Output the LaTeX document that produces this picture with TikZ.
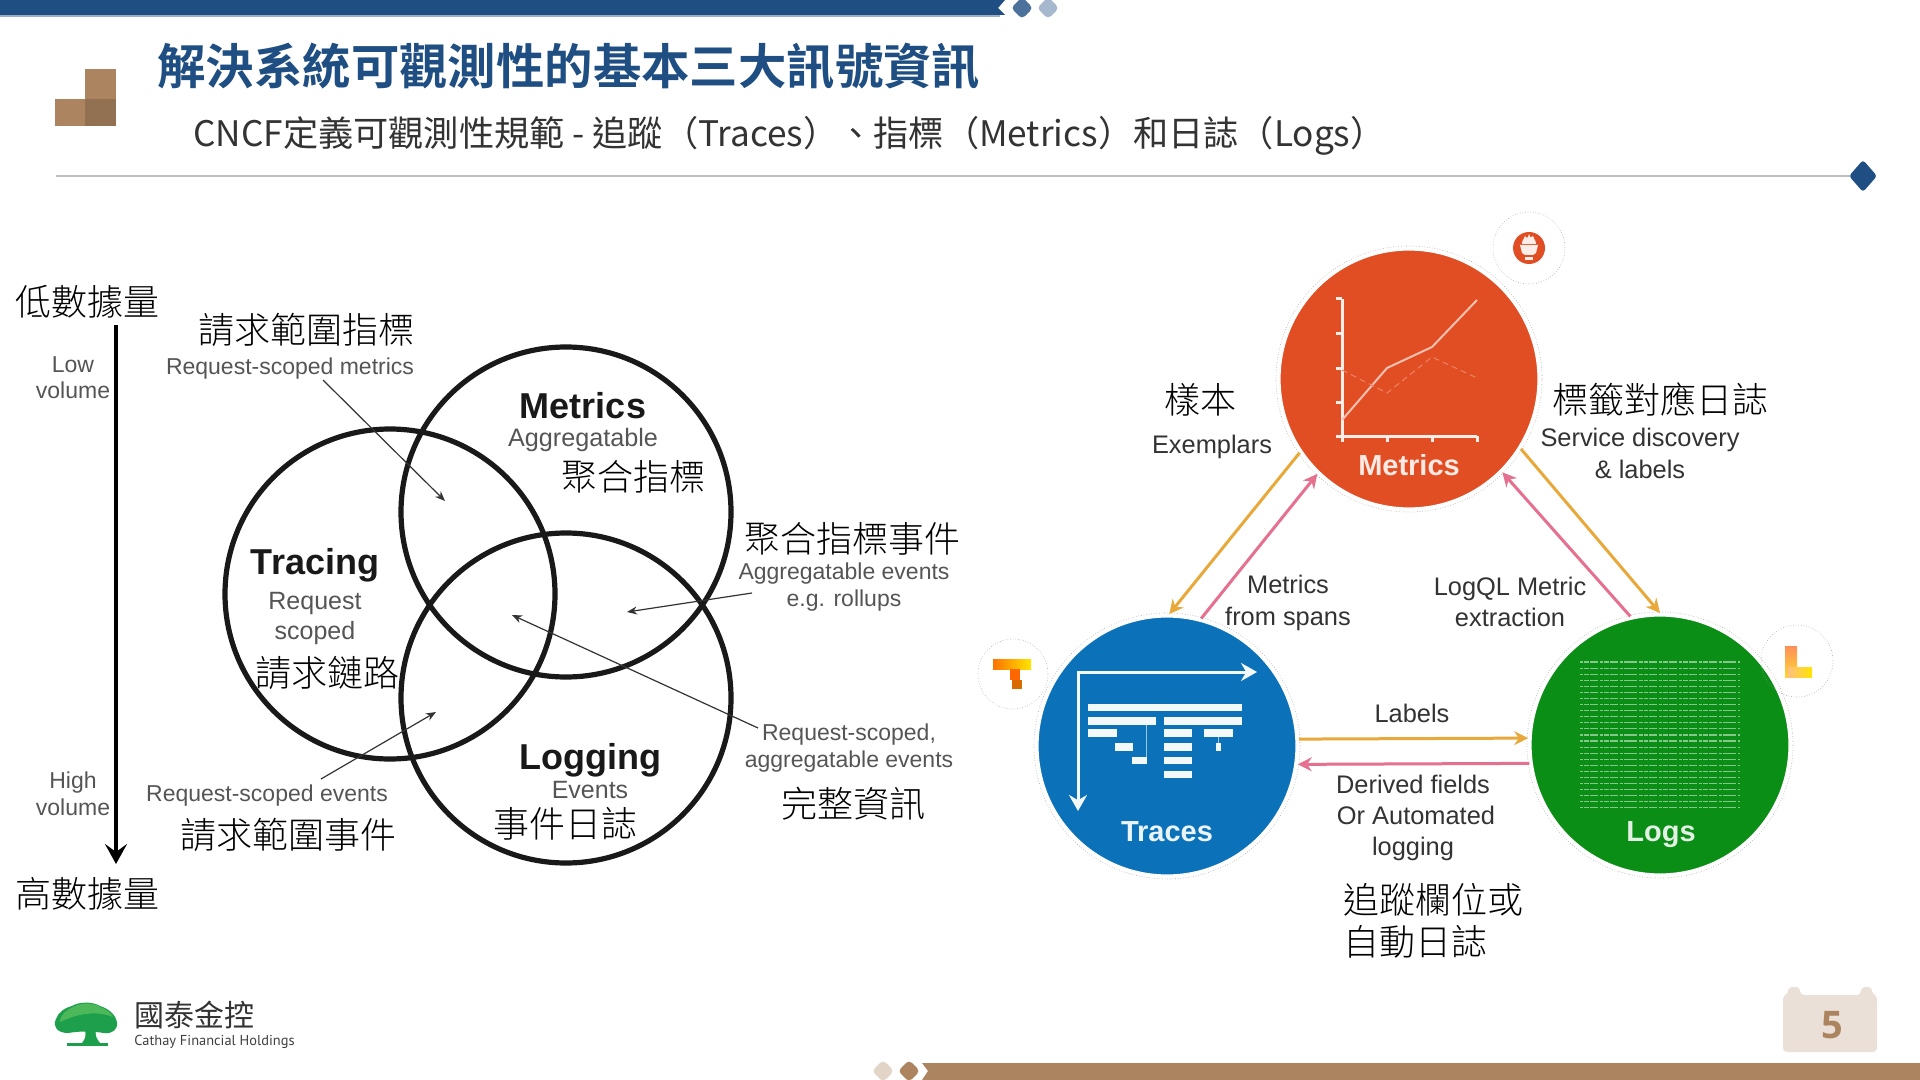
\documentclass[tikz,border=0pt]{standalone}
\usepackage{fontspec}
\setmainfont{Liberation Sans}
\newfontfamily\cjk{Noto Sans CJK TC Light}
\newfontfamily\cjkb{Noto Sans CJK TC Bold}
\newfontfamily\cjkr{Noto Sans CJK TC}
\newfontfamily\logofont{PT Sans}
\newfontfamily\numfont{Open Sans}
\usetikzlibrary{arrows.meta}
\definecolor{navy}{HTML}{1F4E82}
\definecolor{tan}{HTML}{AC8560}
\definecolor{oarrow}{HTML}{E8A93A}
\definecolor{parrow}{HTML}{E5708F}
\definecolor{gtxt}{HTML}{555555}
\definecolor{mred}{HTML}{E24E23}
\definecolor{tblue}{HTML}{0B72B9}
\definecolor{lgreen}{HTML}{0B8E16}
\definecolor{treeg}{HTML}{1E9F4B}
\definecolor{treel}{HTML}{4DB85A}
\newcommand{\fs}[1]{\fontsize{#1}{#1}\selectfont}
\tikzset{
  zh/.style={font=\cjk\fs{18},inner sep=0,text=black,yshift=-0.4pt},
  fixedh/.style={text height=0.72em,text depth=0.2em},
  en/.style={font=\fs{11.5},inner sep=0,text=gtxt,fixedh,yshift=-1.5pt},
  enb/.style={font=\bfseries\fs{18},inner sep=0,text=black!90,fixedh,yshift=-3.8pt},
  rlabel/.style={font=\fs{12.7},inner sep=0,text=black!80,fixedh,yshift=-2pt},
  venn/.style={circle,draw=black!90,line width=2.6pt,minimum size=165pt,inner sep=0},
  bigc/.style={circle,inner sep=0,outer sep=1.5pt,minimum size=129pt,draw=white,line width=.6pt},
  halo/.style={draw=black!35,densely dotted,line width=.3pt},
  thinarrow/.style={draw=black!80,line width=.6pt,-{Stealth[length=5pt,width=4pt]}},
  oline/.style={draw=oarrow,line width=1.5pt,-{Stealth[length=7pt,width=7pt]}},
  pline/.style={draw=parrow,line width=1.5pt,-{Stealth[length=7pt,width=7pt]}},
  cname/.style={font=\bfseries\fs{14.5},inner sep=0,fixedh,yshift=-2.2pt},
}
\begin{document}
\begin{tikzpicture}[x=0.5pt,y=-0.5pt]
\useasboundingbox (0,0) rectangle (1920,1080);
\fill[white] (0,0) rectangle (1920,1080);
% top band
\fill[navy!45] (0,15) rectangle (1000,17);
\fill[navy] (0,0) -- (1005,0) -- (998,8) -- (1005,15) -- (0,15) -- cycle;
\fill[navy!80,rounded corners=2pt] (1022,-3) -- (1033,8) -- (1022,19) -- (1011,8) -- cycle;
\fill[navy!40,rounded corners=2pt] (1048,-3) -- (1059,8) -- (1048,19) -- (1037,8) -- cycle;
% heading
\fill[tan] (85,69) rectangle (116,99);
\fill[tan] (55,99) rectangle (85,126);
\fill[tan!85!black] (85,99) rectangle (116,126);
\node[anchor=west,inner sep=0,text=navy,font=\cjkb\fs{24.2}] (title) at (157,66) {解決系統可觀測性的基本三大訊號資訊};
\node[anchor=west,inner sep=0,text=black!80,font=\cjkr\fs{17.6}] (sub) at (193,136) {CNCF定義可觀測性規範 - 追蹤（Traces）、指標（Metrics）和日誌（Logs）};
\draw[black!25,line width=1.2pt] (56,176) -- (1850,176);
\fill[navy,rounded corners=1.5pt] (1863,160) -- (1877,176) -- (1863,192) -- (1849,176) -- cycle;
% left axis
\node[zh] (low) at (87,301) {低數據量};
\node[zh] (high) at (87,893) {高數據量};
\coordinate (axs) at (116,325);
\coordinate (axe) at (116,864);
\draw[black,line width=2.2pt,-{Stealth[length=10pt,width=11pt,inset=4pt]}] (axs) -- (axe);
\node[en] (lowa) at (73,364) {Low};
\node[en] (lowb) at (73,390) {volume};
\node[en] (higha) at (73,780) {High};
\node[en] (highb) at (73,807) {volume};
% venn
\node[venn] (vm) at (566,512) {};
\node[venn] (vt) at (390,594) {};
\node[venn] (vl) at (566,698) {};
\node[zh] (z1) at (306,329) {請求範圍指標};
\node[en] (e1) at (290,366) {Request-scoped metrics};
\node[enb] (mt) at (583,406) {Metrics};
\node[en,font=\fs{12.6}] (ma) at (583,438) {Aggregatable};
\node[zh] (z2) at (633,476) {聚合指標};
\node[enb] (tt) at (315,562) {Tracing};
\node[en,font=\fs{12.5}] (tr) at (315,601) {Request};
\node[en,font=\fs{12.5}] (ts) at (315,631) {scoped};
\node[zh] (z3) at (327,672) {請求鏈路};
\node[zh] (z4) at (852,538) {聚合指標事件};
\node[en] (e4a) at (844,571) {Aggregatable events};
\node[en] (e4b) at (844,598) {e.g. rollups};
\node[en] (e5a) at (849,732) {Request-scoped,};
\node[en] (e5b) at (849,759) {aggregatable events};
\node[zh] (z5) at (853,803) {完整資訊};
\node[enb] (lt) at (590,757) {Logging};
\node[en,font=\fs{12.5}] (le) at (590,790) {Events};
\node[zh] (z6) at (565,823) {事件日誌};
\node[en] (e6) at (267,793) {Request-scoped events};
\node[zh] (z7) at (288,834) {請求範圍事件};
\coordinate (p1) at (445,501);
\coordinate (p2) at (627,612);
\coordinate (p3) at (512,615);
\coordinate (p4) at (436,712);
\coordinate (q1) at (323,380);
\coordinate (q2) at (752,593);
\coordinate (q3) at (758,728);
\coordinate (q4) at (321,779);
\draw[thinarrow] (q1) -- (p1);
\draw[thinarrow] (q2) -- (p2);
\draw[thinarrow] (q3) -- (p3);
\draw[thinarrow] (q4) -- (p4);
% big circles
\draw[halo] (1409,379) circle (133);
\draw[halo] (1167,746) circle (133);
\draw[halo] (1660,745) circle (133);
\node[bigc,fill=mred] (M) at (1409,379) {};
\node[bigc,fill=tblue] (T) at (1167,746) {};
\node[bigc,fill=lgreen] (L) at (1660,745) {};
% metrics chart
\draw[white!90!mred,line width=1.5pt] (1342,299) -- (1342,436) -- (1477,436);
\foreach \y in {299,334,368,402,436}{\draw[white!90!mred,line width=1.5pt] (1336,\y) -- (1342,\y);}
\foreach \x in {1342,1387,1432,1477}{\draw[white!90!mred,line width=1.5pt] (\x,436) -- (\x,442);}
\draw[mred!35!white,line width=1pt] (1342,420) -- (1387,368) -- (1432,347) -- (1477,300);
\draw[mred!70!white,line width=.5pt,densely dashed] (1342,370) -- (1387,393) -- (1432,357) -- (1477,378);
\node[cname,text=white!88!mred] (Mn) at (1409,466) {Metrics};
% traces chart
\draw[white!95!tblue,line width=1.5pt,{Stealth[length=8pt,width=9pt]}-{Stealth[length=8pt,width=9pt]}] (1078,811) -- (1078,672) -- (1257,672);
\foreach \a/\b/\c/\d in {1088/704/1242/711,1088/717/1156/725,1164/717/1242/725,1088/729/1117/737,1164/729/1192/737,1204/729/1233/737,1115/743/1133/751,1164/743/1192/751,1216/743/1221/751,1132/757/1147/764,1164/757/1192/764,1164/771/1192/778}{\fill[white!95!tblue] (\a,\b) rectangle (\c,\d);}
\draw[white!60!tblue,line width=.3pt] (1146,725) -- (1146,757) (1218,737) -- (1218,743);
\node[cname,text=white!92!tblue] (Tn) at (1167,832) {Traces};
% logs text block
\foreach \y in {0,...,24}{
  \draw[white!50!lgreen,line width=.55pt,dash pattern=on 1.6pt off .5pt on 2.4pt off .4pt on 4pt off 1pt] (1580,662+\y*6.08) -- (1740,662+\y*6.08);
}
\node[cname,text=white!88!lgreen] (Ln) at (1661,832) {Logs};
% small icons
\node[circle,halo,minimum size=36pt,inner sep=0] (ip) at (1529,248) {};
\node[circle,halo,minimum size=35pt,inner sep=0] (it) at (1013,674) {};
\node[circle,halo,minimum size=36pt,inner sep=0] (il) at (1797,661) {};
\fill[mred] (1529,248) circle (16);
\fill[white!90!mred] (1520,245) -- (1538,245) -- (1536,253) -- (1533,255) -- (1525,255) -- (1522,253) -- cycle;
\fill[white!90!mred] (1525,257) rectangle (1533,260);
\fill[white!90!mred] (1522,244) .. controls (1522,238) and (1525,240) .. (1525,236) .. controls (1527,239) and (1528,238) .. (1529,234) .. controls (1530,238) and (1532,238) .. (1533,236) .. controls (1533,240) and (1536,239) .. (1536,244) -- cycle;
\shade[left color=orange!90!red,right color=yellow!80!orange] (993,659) rectangle (1031,669);
\fill[orange!80!red] (1010,669) rectangle (1020,680);
\fill[orange!85!black] (1012,680) rectangle (1022,689);
\shade[top color=orange!65!red!65,bottom color=yellow!60!orange!80] (1785,646) rectangle (1797,677);
\shade[left color=orange!50,right color=yellow!80!orange] (1788,667) rectangle (1812,677);
% connectors
\draw[oline] (M.214) -- (T.89);
\draw[pline] (T.75) -- (M.226);
\draw[oline] (M.-32) -- (L.90);
\draw[pline] (L.103) -- (M.-45);
\draw[oline] (T.3) -- (L.177);
\draw[pline] (L.188) -- (T.-8.5);
% right labels
\node[zh] (rz1) at (1200,399) {樣本};
\node[rlabel] (r1) at (1212,444) {Exemplars};
\node[zh] (rz2) at (1660,399) {標籤對應日誌};
\node[rlabel] (r2a) at (1640,437) {Service discovery};
\node[rlabel] (r2b) at (1640,469) {\& labels};
\node[rlabel] (r3a) at (1288,584) {Metrics};
\node[rlabel] (r3b) at (1288,616) {from spans};
\node[rlabel] (r4a) at (1510,586) {LogQL Metric};
\node[rlabel] (r4b) at (1510,617) {extraction};
\node[rlabel] (r5) at (1412,713) {Labels};
\node[rlabel] (r6a) at (1413,784) {Derived fields};
\node[rlabel] (r6b) at (1416,815) {Or Automated};
\node[rlabel] (r6c) at (1413,846) {logging};
\node[zh] (rz3) at (1433,899) {追蹤欄位或};
\node[zh,anchor=west] (rz4) at (1343,941) {自動日誌};
% footer
\fill[treeg] (67,1043) -- (108,1043) -- (108,1046) -- (67,1046) -- cycle;
\fill[treeg] (82,1043) .. controls (86,1038) and (86,1035) .. (85,1030) -- (96,1030) .. controls (95,1035) and (96,1038) .. (100,1043) -- cycle;
\fill[treeg] (68,1033) .. controls (58,1033) and (52,1027) .. (56,1019) .. controls (58,1013) and (64,1008) .. (72,1006) .. controls (78,1002) and (92,1001) .. (100,1006) .. controls (110,1009) and (116,1016) .. (117,1022) .. controls (118,1030) and (112,1034) .. (104,1033) .. controls (92,1031) and (80,1031) .. (68,1033) -- cycle;
\fill[treel] (60,1022) .. controls (60,1014) and (68,1009) .. (73,1007) .. controls (80,1003) and (92,1002) .. (100,1007) .. controls (106,1009) and (111,1013) .. (113,1017) .. controls (96,1010) and (76,1014) .. (60,1022) -- cycle;
\node[anchor=west,inner sep=0,text=black!80,font=\cjkr\fs{15}] (lg1) at (134,1015) {國泰金控};
\node[anchor=west,inner sep=0,text=black!75,font=\logofont\fs{7.2}] (lg2) at (134,1042) {Cathay Financial Holdings};
\fill[tan!35,rounded corners=2pt] (883,1060) -- (894,1071) -- (883,1082) -- (872,1071) -- cycle;
\fill[tan,rounded corners=2pt] (909,1060) -- (920,1071) -- (909,1082) -- (898,1071) -- cycle;
\fill[tan] (922,1063) -- (1920,1063) -- (1920,1080) -- (922,1080) -- (928,1071) -- cycle;
\fill[tan!25,rounded corners=2pt] (1783,995) -- (1788,995) -- (1788,987) -- (1800,987) -- (1800,995) -- (1861,995) -- (1861,987) -- (1872,987) -- (1872,995) -- (1877,995) -- (1877,1052) -- (1783,1052) -- cycle;
\node[inner sep=0,text=tan,font=\numfont\bfseries\fs{19}] (pg) at (1832,1025) {5};
\end{tikzpicture}
\end{document}
